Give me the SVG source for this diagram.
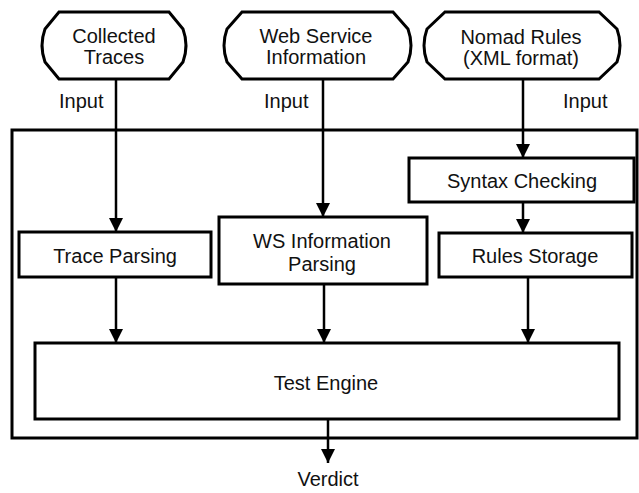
<svg xmlns="http://www.w3.org/2000/svg" width="639" height="493" viewBox="0 0 639 493">
<style>
  .box{fill:#fff;stroke:#000;stroke-width:3}
  .frame{fill:none;stroke:#000;stroke-width:3}
  .conn{fill:none;stroke:#000;stroke-width:2.5;marker-end:url(#arr)}
  .plain{fill:none;stroke:#000;stroke-width:2.5}
  text{font-family:"Liberation Sans",Arial,sans-serif;font-size:20px;fill:#111}
  .c{text-anchor:middle}
</style>
<defs>
  <marker id="arr" markerUnits="userSpaceOnUse" markerWidth="14" markerHeight="14" viewBox="0 0 14 14" refX="14" refY="7" orient="auto">
    <path d="M0,0 L14,7 L0,14 Z" fill="#000"/>
  </marker>
</defs>
<rect width="639" height="493" fill="#fff"/>
<g id="system-frame">
  <rect class="frame" x="12" y="130" width="625" height="308"/>
</g>
<g id="connectors">
  <line class="conn" x1="116" y1="79" x2="116" y2="232"/>
  <line class="conn" x1="323" y1="79" x2="323" y2="217"/>
  <line class="conn" x1="523" y1="79" x2="523" y2="158"/>
  <line class="conn" x1="523" y1="202" x2="523" y2="233"/>
  <line class="conn" x1="116" y1="277" x2="116" y2="343"/>
  <line class="conn" x1="324" y1="284" x2="324" y2="343"/>
  <line class="conn" x1="528" y1="277" x2="528" y2="343"/>
  <line class="conn" x1="328" y1="419" x2="328" y2="463"/>
  <text x="59" y="108">Input</text>
  <text x="264" y="108">Input</text>
  <text x="563" y="108">Input</text>
</g>
<g id="collected-traces">
  <path class="box" d="M59,12 H169 L183,29 Q189,45.5 183,62 L169,79 H59 L45,62 Q39,45.5 45,29 Z"/>
  <text class="c" x="114" y="43">Collected</text>
  <text class="c" x="114" y="64">Traces</text>
</g>
<g id="web-service-information">
  <path class="box" d="M242,12 H393 L408,29 Q414,45.5 408,62 L393,79 H242 L227,62 Q221,45.5 227,29 Z"/>
  <text class="c" x="316" y="43">Web Service</text>
  <text class="c" x="316" y="64">Information</text>
</g>
<g id="nomad-rules">
  <path class="box" d="M445,12 H599 L617,29 Q623,45.5 617,62 L599,79 H445 L427,62 Q421,45.5 427,29 Z"/>
  <text class="c" x="521" y="44">Nomad Rules</text>
  <text class="c" x="521" y="65">(XML format)</text>
</g>
<g id="trace-parsing">
  <rect class="box" x="19" y="232" width="192" height="45"/>
  <text class="c" x="115" y="263">Trace Parsing</text>
</g>
<g id="ws-information-parsing">
  <rect class="box" x="219" y="217" width="208" height="67"/>
  <text class="c" x="322" y="248">WS Information</text>
  <text class="c" x="322" y="271">Parsing</text>
</g>
<g id="syntax-checking">
  <rect class="box" x="409" y="158" width="225" height="44"/>
  <text class="c" x="522" y="188">Syntax Checking</text>
</g>
<g id="rules-storage">
  <rect class="box" x="439" y="233" width="193" height="44"/>
  <text class="c" x="535" y="263">Rules Storage</text>
</g>
<g id="test-engine">
  <rect class="box" x="35" y="343" width="584" height="76"/>
  <text class="c" x="326" y="390">Test Engine</text>
</g>
<g id="verdict">
  <text class="c" x="328" y="486">Verdict</text>
</g>
</svg>
